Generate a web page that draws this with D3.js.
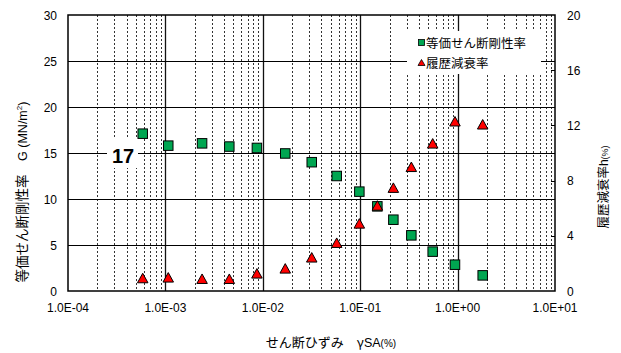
<!DOCTYPE html>
<html><head><meta charset="utf-8">
<script src="https://cdn.jsdelivr.net/npm/d3@7"></script>
<style>
body{margin:0;background:#fff}
svg{display:block}
</style>
</head><body>
<svg id="chart" width="621" height="353"></svg>
<script>
// Shear strain (%) for each test step
const strain = [5.85e-4, 1.07e-3, 2.38e-3, 4.53e-3, 8.7e-3, 1.70e-2, 3.18e-2, 5.74e-2, 9.8e-2, 0.15, 0.219, 0.335, 0.555, 0.94, 1.81];
// Equivalent shear modulus G (MN/m2)
const shearModulus = [17.1, 15.8, 16.05, 15.7, 15.55, 14.95, 14.0, 12.5, 10.8, 9.2, 7.75, 6.05, 4.28, 2.86, 1.7];
// Hysteretic damping ratio h (%)
const damping = [0.94, 0.99, 0.89, 0.89, 1.28, 1.64, 2.44, 3.5, 4.9, 6.2, 7.49, 9.0, 10.7, 12.3, 12.08];

const seriesNames = ["等価せん断剛性率", "履歴減衰率"];
const xTicks = [1e-4, 1e-3, 1e-2, 1e-1, 1, 10];
const xTickLabels = ["1.0E-04", "1.0E-03", "1.0E-02", "1.0E-01", "1.0E+00", "1.0E+01"];
const leftTicks = [0, 5, 10, 15, 20, 25, 30];
const rightTicks = [0, 4, 8, 12, 16, 20];
const noteValue = 17;

const JP = "'Noto Sans CJK JP', sans-serif";
const LAT = "'Liberation Sans', Arial, sans-serif";

const L = 68, R = 555, T = 15, B = 291;
const svg = d3.select("#chart");
svg.append("rect").attr("width", 621).attr("height", 353).attr("fill", "#fff");

const x = d3.scaleLog().domain([1e-4, 10]).range([L, R]);
const yL = d3.scaleLinear().domain([0, 30]).range([B, T]);
const yR = d3.scaleLinear().domain([0, 20]).range([B, T]);

// grid: minor log lines (dotted) and decade lines (solid)
const grid = svg.append("g");
const minor = [];
for (let e = -4; e < 1; e++) for (let m = 2; m <= 9; m++) minor.push(m * Math.pow(10, e));
grid.selectAll(".minor").data(minor).join("line")
  .attr("x1", d => Math.round(x(d)) + 0.5).attr("x2", d => Math.round(x(d)) + 0.5)
  .attr("y1", T).attr("y2", B)
  .attr("stroke", "#333").attr("stroke-width", 1).attr("stroke-dasharray", "2,2");
grid.selectAll(".major").data(xTicks.slice(1, -1)).join("line")
  .attr("x1", d => Math.round(x(d)) + 0.5).attr("x2", d => Math.round(x(d)) + 0.5)
  .attr("y1", T).attr("y2", B)
  .attr("stroke", "#111").attr("stroke-width", 1.3);
grid.selectAll(".hgrid").data(leftTicks.slice(1, -1)).join("line")
  .attr("x1", L).attr("x2", R)
  .attr("y1", d => Math.round(yL(d)) + 0.5).attr("y2", d => Math.round(yL(d)) + 0.5)
  .attr("stroke", "#000").attr("stroke-width", 1);

// legend box (drawn over the grid)
svg.append("rect").attr("x", 407).attr("y", 31).attr("width", 134).attr("height", 43).attr("fill", "#fff");

// annotation box
svg.append("rect").attr("x", 107).attr("y", 139).attr("width", 31).attr("height", 29).attr("fill", "#fff");
svg.append("text").attr("x", 123).attr("y", 162.5)
  .attr("text-anchor", "middle").attr("font-family", LAT).attr("font-weight", "bold")
  .attr("font-size", 20).attr("fill", "#000").text(noteValue);

// plot frame
svg.append("rect").attr("x", L).attr("y", T).attr("width", R - L).attr("height", B - T)
  .attr("fill", "none").attr("stroke", "#000").attr("stroke-width", 1.5);

// right axis inward ticks
svg.selectAll(".rtick").data(rightTicks.slice(1, -1)).join("line")
  .attr("x1", R - 4).attr("x2", R)
  .attr("y1", d => Math.round(yR(d)) + 0.5).attr("y2", d => Math.round(yR(d)) + 0.5)
  .attr("stroke", "#000").attr("stroke-width", 1);

// tick labels
svg.selectAll(".lt").data(leftTicks).join("text")
  .attr("x", 57).attr("y", d => yL(d) + 4.5).attr("text-anchor", "end")
  .attr("font-family", LAT).attr("font-size", 12).attr("fill", "#000").text(d => d);
svg.selectAll(".rt").data(rightTicks).join("text")
  .attr("x", 567).attr("y", d => yR(d) + 4.5).attr("text-anchor", "start")
  .attr("font-family", LAT).attr("font-size", 12).attr("fill", "#000").text(d => d);
svg.selectAll(".xt").data(xTicks).join("text")
  .attr("x", d => x(d)).attr("y", 311.5).attr("text-anchor", "middle")
  .attr("font-family", LAT).attr("font-size", 12).attr("fill", "#000")
  .text((d, i) => xTickLabels[i]);

// axis titles
const yt = svg.append("text").attr("transform", "translate(27,192) rotate(-90)")
  .attr("text-anchor", "middle").attr("fill", "#000");
yt.append("tspan").attr("font-family", JP).attr("font-size", 13.5).text("等価せん断剛性率　");
yt.append("tspan").attr("font-family", LAT).attr("font-size", 12.5).text("G (MN/m");
yt.append("tspan").attr("font-family", LAT).attr("font-size", 8).attr("dy", -5).text("2");
yt.append("tspan").attr("font-family", LAT).attr("font-size", 12.5).attr("dy", 5).text(")");

const rt = svg.append("text").attr("transform", "translate(608,187) rotate(-90)")
  .attr("text-anchor", "middle").attr("fill", "#000");
rt.append("tspan").attr("font-family", JP).attr("font-size", 12.5).text("履歴減衰率");
rt.append("tspan").attr("font-family", LAT).attr("font-size", 12).text("h");
rt.append("tspan").attr("font-family", LAT).attr("font-size", 9).text("(%)");

const xt = svg.append("text").attr("x", 331).attr("y", 347).attr("text-anchor", "middle").attr("fill", "#000");
xt.append("tspan").attr("font-family", JP).attr("font-size", 13).text("せん断ひずみ　");
xt.append("tspan").attr("font-family", JP).attr("font-size", 13).text("γ");
xt.append("tspan").attr("font-family", LAT).attr("font-size", 12.5).text("SA");
xt.append("tspan").attr("font-family", LAT).attr("font-size", 10).text("(%)");

// markers
const green = "#00a651", red = "#ff0000";
const pts = strain.map((s, i) => ({ s, g: shearModulus[i], h: damping[i] }));
const sq = 9.5;
svg.selectAll(".sq").data(pts).join("rect")
  .attr("x", d => x(d.s) - sq / 2).attr("y", d => yL(d.g) - sq / 2)
  .attr("width", sq).attr("height", sq)
  .attr("fill", green).attr("stroke", "#000").attr("stroke-width", 1);
const tri = (cx, cy, w, h) => `M${cx},${cy - h / 2}L${cx + w / 2},${cy + h / 2}L${cx - w / 2},${cy + h / 2}Z`;
svg.selectAll(".tri").data(pts).join("path")
  .attr("d", d => tri(x(d.s), yR(d.h), 10.5, 9.5))
  .attr("fill", red).attr("stroke", "#000").attr("stroke-width", 1).attr("stroke-linejoin", "miter");

// legend entries
const lg = svg.append("g");
lg.append("rect").attr("x", 418.5).attr("y", 39.5).attr("width", 6).attr("height", 6)
  .attr("fill", green).attr("stroke", "#000").attr("stroke-width", 0.8);
lg.append("path").attr("d", tri(421.5, 62.5, 7, 6))
  .attr("fill", red).attr("stroke", "#000").attr("stroke-width", 0.8);
lg.selectAll(".lt").data(seriesNames).join("text")
  .attr("x", 426).attr("y", (d, i) => 47.5 + i * 20)
  .attr("font-family", JP).attr("font-size", 12.5).attr("fill", "#000").text(d => d);
</script>
</body></html>
